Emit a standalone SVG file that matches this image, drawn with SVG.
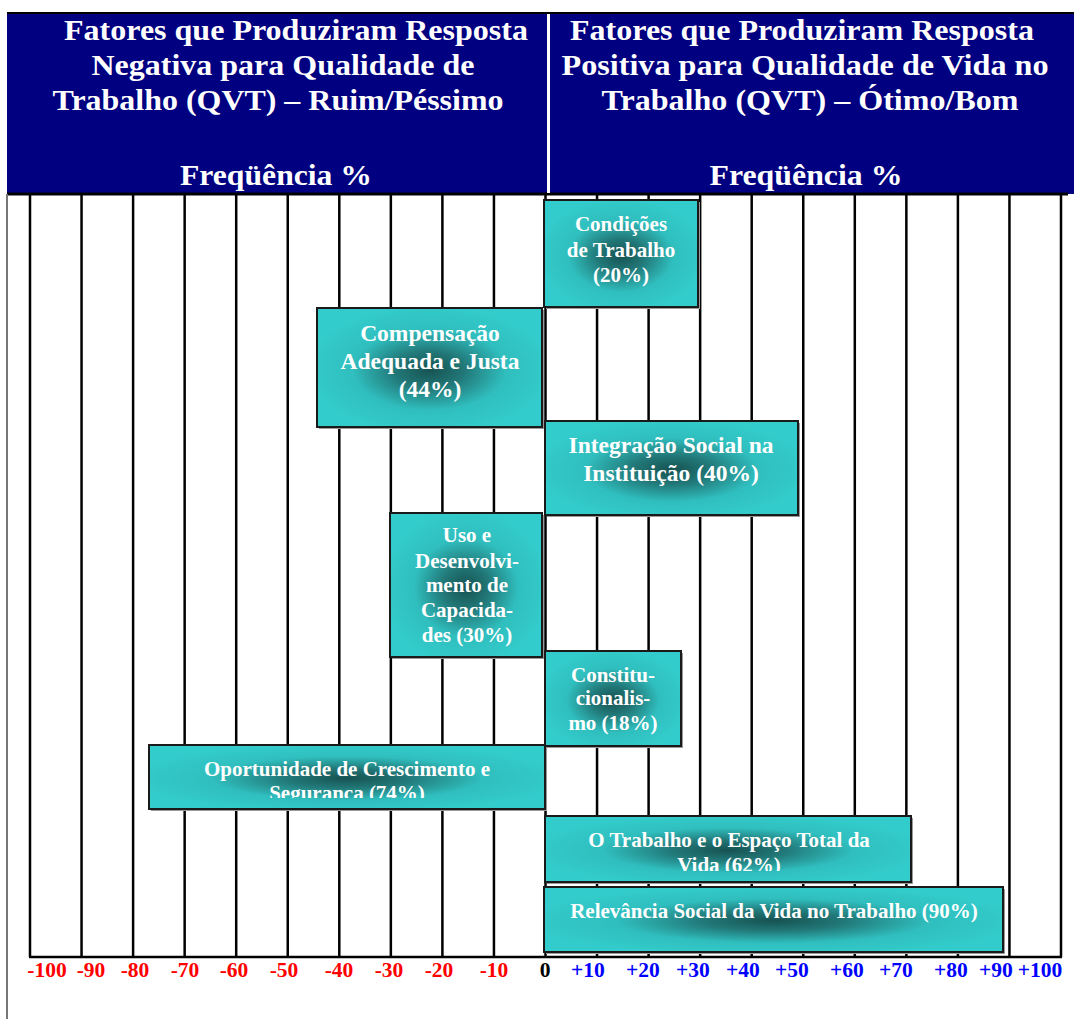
<svg xmlns="http://www.w3.org/2000/svg" width="1074" height="1019" viewBox="0 0 1074 1019">
<style>
  .hdr { font-family: "Liberation Serif", "Times New Roman", serif; font-weight: bold; font-size: 30px; fill: #ffffff; text-anchor: middle; }
  .grid line { stroke: #000000; stroke-width: 2.5; }
  .box { fill: url(#boxGrad); stroke: #1a1a1a; stroke-width: 2; }
  .shadow { fill: #9a9a9a; }
  .bt { font-family: "Liberation Serif", "Times New Roman", serif; font-weight: bold; font-size: 21px; fill: #ffffff; text-anchor: middle; }
  .bt24 { font-size: 23.5px; }
  .ax { font-family: "Liberation Serif", "Times New Roman", serif; font-weight: bold; font-size: 21.5px; text-anchor: middle; }
  .neg { fill: #ff0000; }
  .pos { fill: #0000ff; }
  .zero { fill: #000000; }
</style>
<defs>
  <radialGradient id="boxGrad" cx="0.5" cy="0.52" r="0.55">
    <stop offset="0" stop-color="#175252"/>
    <stop offset="0.28" stop-color="#227878"/>
    <stop offset="0.62" stop-color="#30bebe"/>
    <stop offset="1" stop-color="#33cccc"/>
  </radialGradient>
  <clipPath id="clipOport"><rect x="149" y="745" width="396" height="53"/></clipPath>
  <clipPath id="clipTrab"><rect x="545" y="816" width="368" height="55"/></clipPath>
</defs>
<rect x="0" y="0" width="1074" height="1019" fill="#ffffff"/>

<g id="header">
  <rect x="7" y="12" width="1067" height="182" fill="#000080"/>
  <line x1="7" y1="13" x2="1074" y2="13" stroke="#000000" stroke-width="2"/>
  <line x1="7" y1="194" x2="1068" y2="194" stroke="#000000" stroke-width="3"/>
  <line x1="548.5" y1="14" x2="548.5" y2="193" stroke="#ffffff" stroke-width="3"/>
  <text class="hdr" x="296" y="40" textLength="464" lengthAdjust="spacingAndGlyphs">Fatores que Produziram Resposta</text>
  <text class="hdr" x="283" y="75" textLength="383" lengthAdjust="spacingAndGlyphs">Negativa para Qualidade de</text>
  <text class="hdr" x="278" y="110" textLength="451" lengthAdjust="spacingAndGlyphs">Trabalho (QVT) – Ruim/Péssimo</text>
  <text class="hdr" x="276" y="185" textLength="192" lengthAdjust="spacingAndGlyphs">Freqüência %</text>
  <text class="hdr" x="802" y="40" textLength="464" lengthAdjust="spacingAndGlyphs">Fatores que Produziram Resposta</text>
  <text class="hdr" x="805" y="75" textLength="487" lengthAdjust="spacingAndGlyphs">Positiva para Qualidade de Vida no</text>
  <text class="hdr" x="810" y="110" textLength="417" lengthAdjust="spacingAndGlyphs">Trabalho (QVT) – Ótimo/Bom</text>
  <text class="hdr" x="806" y="185" textLength="193" lengthAdjust="spacingAndGlyphs">Freqüência %</text>
</g>

<g id="grid" class="grid">
  <line x1="7" y1="194" x2="7" y2="1019" style="stroke:#777777;stroke-width:2"/>
  <line x1="30" y1="195" x2="30" y2="957"/>
  <line x1="81.55" y1="195" x2="81.55" y2="957"/>
  <line x1="133.1" y1="195" x2="133.1" y2="957"/>
  <line x1="184.65" y1="195" x2="184.65" y2="957"/>
  <line x1="236.2" y1="195" x2="236.2" y2="957"/>
  <line x1="287.75" y1="195" x2="287.75" y2="957"/>
  <line x1="339.3" y1="195" x2="339.3" y2="957"/>
  <line x1="390.85" y1="195" x2="390.85" y2="957"/>
  <line x1="442.4" y1="195" x2="442.4" y2="957"/>
  <line x1="493.95" y1="195" x2="493.95" y2="957"/>
  <line x1="545.5" y1="195" x2="545.5" y2="957"/>
  <line x1="597.05" y1="195" x2="597.05" y2="957"/>
  <line x1="648.6" y1="195" x2="648.6" y2="957"/>
  <line x1="700.15" y1="195" x2="700.15" y2="957"/>
  <line x1="751.7" y1="195" x2="751.7" y2="957"/>
  <line x1="803.25" y1="195" x2="803.25" y2="957"/>
  <line x1="854.8" y1="195" x2="854.8" y2="957"/>
  <line x1="906.35" y1="195" x2="906.35" y2="957"/>
  <line x1="957.9" y1="195" x2="957.9" y2="957"/>
  <line x1="1009.45" y1="195" x2="1009.45" y2="957"/>
  <line x1="1061" y1="195" x2="1061" y2="957"/>
  <line x1="29" y1="957" x2="1062" y2="957"/>
</g>

<g id="node-condicoes">
  <rect class="shadow" x="546" y="202" width="154" height="107"/>
  <rect class="box" x="544" y="200" width="154" height="107"/>
  <text class="bt" x="621" y="231">Condições</text>
  <text class="bt" x="621" y="257">de Trabalho</text>
  <text class="bt" x="621" y="282">(20%)</text>
</g>

<g id="node-compensacao">
  <rect class="shadow" x="319" y="310" width="225" height="119"/>
  <rect class="box" x="317" y="308" width="225" height="119"/>
  <text class="bt bt24" x="430" y="341">Compensação</text>
  <text class="bt bt24" x="430" y="369">Adequada e Justa</text>
  <text class="bt bt24" x="430" y="397">(44%)</text>
</g>

<g id="node-integracao">
  <rect class="shadow" x="547" y="423" width="253" height="94"/>
  <rect class="box" x="545" y="421" width="253" height="94"/>
  <text class="bt bt24" x="671" y="453">Integração Social na</text>
  <text class="bt bt24" x="671" y="481">Instituição (40%)</text>
</g>

<g id="node-uso">
  <rect class="shadow" x="392" y="515" width="152" height="144"/>
  <rect class="box" x="390" y="513" width="152" height="144"/>
  <text class="bt" x="467" y="542">Uso e</text>
  <text class="bt" x="467" y="568">Desenvolvi-</text>
  <text class="bt" x="467" y="592">mento de</text>
  <text class="bt" x="467" y="617">Capacida-</text>
  <text class="bt" x="467" y="642">des (30%)</text>
</g>

<g id="node-constitucionalismo">
  <rect class="shadow" x="547" y="653" width="136" height="95"/>
  <rect class="box" x="545" y="651" width="136" height="95"/>
  <text class="bt" x="613" y="682">Constitu-</text>
  <text class="bt" x="613" y="705">cionalis-</text>
  <text class="bt" x="613" y="730">mo (18%)</text>
</g>

<g id="node-oportunidade">
  <rect class="shadow" x="151" y="747" width="396" height="64"/>
  <rect class="box" x="149" y="745" width="396" height="64"/>
  <g clip-path="url(#clipOport)">
    <text class="bt" x="347" y="776">Oportunidade de Crescimento e</text>
    <text class="bt" x="347" y="800">Segurança (74%)</text>
  </g>
</g>

<g id="node-trabalho-espaco">
  <rect class="shadow" x="547" y="818" width="366" height="66"/>
  <rect class="box" x="545" y="816" width="366" height="66"/>
  <g clip-path="url(#clipTrab)">
    <text class="bt" x="729" y="847">O Trabalho e o Espaço Total da</text>
    <text class="bt" x="729" y="872">Vida (62%)</text>
  </g>
</g>

<g id="node-relevancia">
  <rect class="shadow" x="546" y="889" width="459" height="65"/>
  <rect class="box" x="544" y="887" width="459" height="65"/>
  <text class="bt" x="774" y="918">Relevância Social da Vida no Trabalho (90%)</text>
</g>

<g id="connectors"></g>

<g id="axis-labels" class="ax">
  <text class="ax neg" x="47" y="977">-100</text>
  <text class="ax neg" x="91" y="977">-90</text>
  <text class="ax neg" x="135" y="977">-80</text>
  <text class="ax neg" x="185" y="977">-70</text>
  <text class="ax neg" x="234" y="977">-60</text>
  <text class="ax neg" x="284" y="977">-50</text>
  <text class="ax neg" x="339" y="977">-40</text>
  <text class="ax neg" x="389" y="977">-30</text>
  <text class="ax neg" x="439" y="977">-20</text>
  <text class="ax neg" x="494" y="977">-10</text>
  <text class="ax zero" x="545" y="977">0</text>
  <text class="ax pos" x="588" y="977">+10</text>
  <text class="ax pos" x="643" y="977">+20</text>
  <text class="ax pos" x="693" y="977">+30</text>
  <text class="ax pos" x="743" y="977">+40</text>
  <text class="ax pos" x="792" y="977">+50</text>
  <text class="ax pos" x="847" y="977">+60</text>
  <text class="ax pos" x="896" y="977">+70</text>
  <text class="ax pos" x="951" y="977">+80</text>
  <text class="ax pos" x="996" y="977">+90</text>
  <text class="ax pos" x="1040" y="977">+100</text>
</g>
</svg>
